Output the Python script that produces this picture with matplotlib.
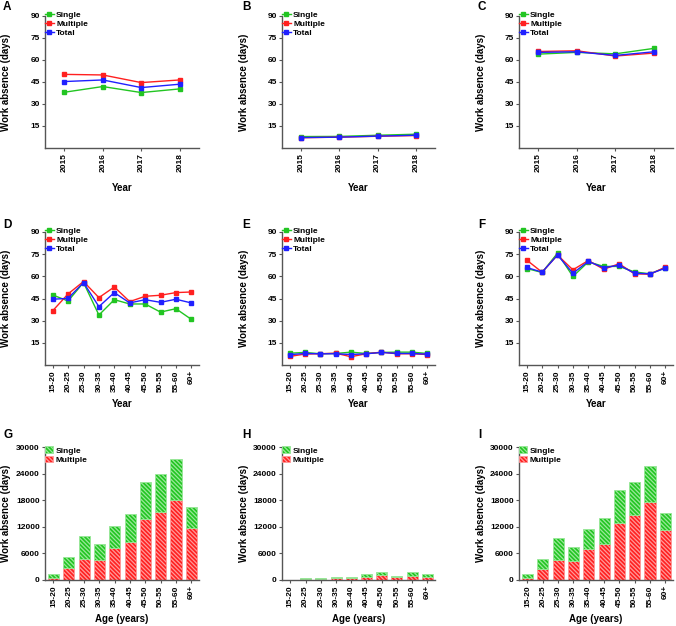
import matplotlib
matplotlib.use("Agg")
import matplotlib.pyplot as plt
import numpy as np

plt.rcParams['font.family'] = ['Liberation Sans', 'DejaVu Sans']
plt.rcParams['font.weight'] = 'bold'
plt.rcParams['hatch.linewidth'] = 0.9

years = ['2015', '2016', '2017', '2018']
ages = ['15-20', '20-25', '25-30', '30-35', '35-40', '40-45', '45-50', '50-55', '55-60', '60+']

# Panel A-C: by year
A_single = [38.0, 41.9, 37.8, 40.3]
A_multiple = [50.2, 49.8, 44.6, 46.4]
A_total = [45.3, 46.4, 41.2, 43.5]

B_single = [7.8, 7.9, 8.7, 9.4]
B_multiple = [7.0, 7.4, 8.0, 8.5]
B_total = [7.1, 7.4, 8.1, 8.7]

C_single = [64.0, 65.2, 64.2, 67.9]
C_multiple = [65.8, 66.3, 62.7, 64.7]
C_total = [65.2, 65.6, 63.1, 65.6]

# Panel D-F: by age group
D_single = [47.4, 43.3, 55.8, 33.8, 44.2, 41.3, 41.3, 35.8, 38.1, 30.9]
D_multiple = [36.7, 48.1, 56.5, 45.6, 52.8, 42.9, 46.5, 47.2, 49.0, 49.4]
D_total = [44.5, 45.1, 55.8, 39.5, 49.0, 42.0, 44.2, 42.4, 44.5, 42.0]

E_single = [8.0, 8.5, 7.6, 7.8, 8.7, 7.8, 8.5, 8.7, 8.7, 7.8]
E_multiple = [5.8, 7.4, 7.6, 8.0, 5.6, 7.6, 8.7, 7.6, 7.6, 7.1]
E_total = [7.0, 7.8, 7.6, 7.6, 7.1, 7.6, 8.5, 7.8, 7.8, 7.3]

F_single = [65.3, 62.6, 75.7, 59.9, 69.8, 66.7, 66.7, 63.0, 61.7, 65.8]
F_multiple = [71.0, 62.8, 74.4, 64.4, 70.7, 64.8, 68.5, 61.7, 61.4, 66.2]
F_total = [66.0, 62.8, 74.4, 62.1, 70.1, 65.8, 67.6, 62.1, 61.7, 65.5]

# Panel G-I: stacked bars (Multiple bottom, Single top)
G_multiple = [350, 2700, 4650, 4500, 7250, 8600, 13650, 15400, 18150, 11750]
G_single = [1000, 2420, 5300, 3640, 4960, 6400, 8430, 8500, 9200, 4680]

H_multiple = [50, 150, 225, 450, 450, 750, 1050, 680, 900, 750]
H_single = [50, 225, 225, 300, 300, 525, 750, 120, 825, 600]

I_multiple = [380, 2560, 4520, 4300, 7000, 8060, 12800, 14700, 17550, 11300]
I_single = [900, 2260, 5050, 3160, 4530, 5880, 7550, 7460, 8220, 3920]

GREEN = '#22c522'
RED = '#ff2020'
BLUE = '#2020ff'
SPINE = '#555555'

W, H = 676, 626
fig = plt.figure(figsize=(W / 100, H / 100), dpi=100)

cols = [(45, 199), (282, 435), (519, 673)]
rows = [(16, 148), (232, 365), (447, 580)]
letters = [['A', 'B', 'C'], ['D', 'E', 'F'], ['G', 'H', 'I']]
letter_x = [3, 242, 478]
letter_y = [7, 225, 435]
ylab_right = [11, 249, 486]
xlab_y = [188, 404, 619]


def make_ax(r, c):
    x0, x1 = cols[c]
    y0, y1 = rows[r]
    ax = fig.add_axes([x0 / W, 1 - y1 / H, (x1 - x0) / W, (y1 - y0) / H])
    for s in ['top', 'right']:
        ax.spines[s].set_visible(False)
    for s in ['left', 'bottom']:
        ax.spines[s].set_color(SPINE)
        ax.spines[s].set_linewidth(1.0)
    ax.tick_params(axis='both', colors=SPINE, length=2.5, width=0.8, labelsize=6,
                   labelcolor='black', pad=1.2)
    fig.text(letter_x[c] / W, 1 - letter_y[r] / H, letters[r][c], fontsize=8.5, fontweight='bold',
             ha='left', va='center')
    return ax


def set_labels(ax, r, c, xlabel):
    x0, x1 = cols[c]
    y0, y1 = rows[r]
    ax.set_xlabel(xlabel, fontsize=7, fontweight='bold')
    ax.xaxis.set_label_coords(0.5, -(xlab_y[r] - y1) / (y1 - y0))
    ax.xaxis.label.set_va('center')
    ax.set_ylabel('Work absence (days)', fontsize=7, fontweight='bold')
    ax.yaxis.set_label_coords((ylab_right[c] - x0) / (x1 - x0), 0.5)


def line_panel(ax, labels, s, m, t):
    x = np.arange(len(labels))
    kw = dict(marker='s', markersize=2.4, linewidth=1.0)
    ax.plot(x, s, color=GREEN, label='Single', **kw)
    ax.plot(x, m, color=RED, label='Multiple', **kw)
    ax.plot(x, t, color=BLUE, label='Total', **kw)
    ax.set_xlim(-0.5, len(labels) - 0.5)
    ax.set_ylim(0, 90)
    ax.set_yticks([15, 30, 45, 60, 75, 90])
    ax.set_xticks(x)
    ax.set_xticklabels(labels, rotation=90)
    for lab in ax.get_xticklabels() + ax.get_yticklabels():
        lab.set_fontweight('bold')
    leg = ax.legend(loc='upper left', bbox_to_anchor=(-0.02, 1.06), frameon=False, fontsize=6,
                    handlelength=1.0, handletextpad=0.3, labelspacing=0.15, borderaxespad=0.0)
    for txt in leg.get_texts():
        txt.set_fontweight('bold')


def bar_panel(ax, labels, m, s):
    x = np.arange(len(labels))
    b1 = ax.bar(x, m, width=0.72, color=RED, edgecolor='#ff9a9a', hatch='\\\\\\\\\\\\\\\\',
                linewidth=0.6, label='Multiple')
    b2 = ax.bar(x, s, width=0.72, bottom=m, color=GREEN, edgecolor='#9ae89a',
                hatch='\\\\\\\\\\\\\\\\', linewidth=0.6, label='Single')
    ax.set_xlim(-0.55, len(labels) - 0.5)
    ax.set_ylim(0, 30000)
    ax.set_yticks([0, 6000, 12000, 18000, 24000, 30000])
    ax.set_xticks(x)
    ax.set_xticklabels(labels, rotation=90)
    for lab in ax.get_xticklabels() + ax.get_yticklabels():
        lab.set_fontweight('bold')
    leg = ax.legend([b2, b1], ['Single', 'Multiple'], loc='upper left', bbox_to_anchor=(-0.02, 1.03),
                    frameon=False, fontsize=6, handlelength=0.9, handleheight=0.9,
                    handletextpad=0.3, labelspacing=0.1, borderaxespad=0.0)
    for txt in leg.get_texts():
        txt.set_fontweight('bold')


line_data_year = [(A_single, A_multiple, A_total), (B_single, B_multiple, B_total),
                  (C_single, C_multiple, C_total)]
line_data_age = [(D_single, D_multiple, D_total), (E_single, E_multiple, E_total),
                 (F_single, F_multiple, F_total)]
bar_data = [(G_multiple, G_single), (H_multiple, H_single), (I_multiple, I_single)]

for c in range(3):
    ax = make_ax(0, c)
    line_panel(ax, years, *line_data_year[c])
    set_labels(ax, 0, c, 'Year')

    ax = make_ax(1, c)
    line_panel(ax, ages, *line_data_age[c])
    set_labels(ax, 1, c, 'Year')

    ax = make_ax(2, c)
    bar_panel(ax, ages, *bar_data[c])
    set_labels(ax, 2, c, 'Age (years)')

fig.savefig('out.png', dpi=100)
